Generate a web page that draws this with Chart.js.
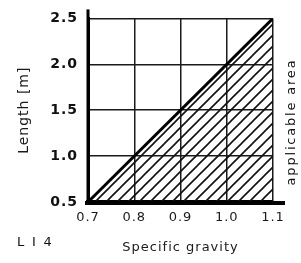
<!DOCTYPE html>
<html><head><meta charset="utf-8">
<script src="https://cdn.jsdelivr.net/npm/chart.js@4"></script>
<style>html,body{margin:0;padding:0;background:#fff}</style>
</head><body>
<canvas id="c" width="301" height="263" style="width:301px;height:263px;display:block"></canvas>
<script>
// ---- data ----
const gravity = [0.7, 1.1];          // specific gravity (x)
const lengthM = [0.5, 2.5];          // length [m] (y), boundary of applicable area
const xTickLabels = ['0.7', '0.8', '0.9', '1.0', '1.1'];
const yTickLabels = ['0.5', '1.0', '1.5', '2.0', '2.5'];
const xTitle = 'Specific gravity';
const yTitle = 'Length [m]';
const areaLabel = 'applicable area';
const figLabel = 'L I 4';

// hatch pattern for the applicable area
const pc = document.createElement('canvas');
const S = 11;
pc.width = S; pc.height = S;
const p = pc.getContext('2d');
p.strokeStyle = '#111';
p.lineWidth = 1.6;
p.beginPath();
p.moveTo(0, S); p.lineTo(S, 0);
p.moveTo(-2, 2); p.lineTo(2, -2);
p.moveTo(S - 2, S + 2); p.lineTo(S + 2, S - 2);
p.stroke();
const hatch = p.createPattern(pc, 'repeat');

const points = gravity.map((g, i) => ({x: g, y: lengthM[i]}));

const spacing = {
  id: 'spacing',
  beforeDraw(chart) { chart.ctx.letterSpacing = '1px'; }
};

const extras = {
  id: 'extras',
  afterDraw(chart) {
    const {ctx, chartArea: ca} = chart;
    ctx.save();
    ctx.strokeStyle = '#000';
    ctx.lineWidth = 3;
    ctx.beginPath();
    ctx.moveTo(ca.left, ca.top - 9);
    ctx.lineTo(ca.left, ca.bottom);
    ctx.stroke();
    ctx.lineWidth = 4;
    ctx.beginPath();
    ctx.moveTo(ca.left - 3, ca.bottom + 1);
    ctx.lineTo(ca.right + 12, ca.bottom + 1);
    ctx.stroke();
    ctx.fillStyle = '#111';
    ctx.font = '13px "DejaVu Sans"';
    ctx.letterSpacing = '1.8px';
    ctx.textBaseline = 'middle';
    ctx.textAlign = 'left';
    ctx.fillText(figLabel, 17, 243);
    ctx.translate(292, 122);
    ctx.rotate(-Math.PI / 2);
    ctx.textAlign = 'center';
    ctx.fillText(areaLabel, 0, 0);
    ctx.restore();
  }
};

new Chart(document.getElementById('c'), {
  type: 'line',
  data: {
    datasets: [{
      data: points,
      borderColor: '#000',
      borderWidth: 3,
      pointRadius: 0,
      tension: 0,
      fill: 'start',
      backgroundColor: hatch
    }]
  },
  options: {
    responsive: false,
    devicePixelRatio: 1,
    animation: false,
    events: [],
    layout: {padding: {left: 0, top: 16, right: 28, bottom: 0}},
    plugins: {legend: {display: false}, tooltip: {enabled: false}},
    scales: {
      x: {
        type: 'linear',
        min: 0.7, max: 1.1,
        afterFit(s) { s.height = 61; },
        afterBuildTicks(s) { s.ticks = xTickLabels.map(t => ({value: parseFloat(t)})); },
        ticks: {
          callback: (v, i) => xTickLabels[i],
          font: {family: 'DejaVu Sans', size: 13},
          color: '#1a1a1a',
          padding: 8,
          maxRotation: 0,
          autoSkip: false
        },
        grid: {color: '#1a1a1a', lineWidth: 1.5, drawTicks: false},
        border: {display: true, color: '#000', width: 4},
        title: {
          display: true, text: xTitle,
          font: {family: 'DejaVu Sans', size: 13},
          color: '#1a1a1a',
          padding: {top: 0, bottom: 8}
        }
      },
      y: {
        type: 'linear',
        min: 0.5, max: 2.5,
        afterFit(s) { s.width = 88; },
        afterBuildTicks(s) { s.ticks = yTickLabels.map(t => ({value: parseFloat(t)})); },
        ticks: {
          callback: (v, i) => yTickLabels[i],
          font: {family: 'DejaVu Sans', size: 14, weight: 'bold'},
          color: '#111',
          padding: 10,
          autoSkip: false
        },
        grid: {color: '#1a1a1a', lineWidth: 1.5, drawTicks: false},
        border: {display: true, color: '#000', width: 3},
        title: {
          display: true, text: yTitle,
          font: {family: 'DejaVu Sans', size: 14},
          color: '#1a1a1a',
          padding: {top: 16, bottom: 0}
        }
      }
    }
  },
  plugins: [spacing, extras]
});
</script>
</body></html>
